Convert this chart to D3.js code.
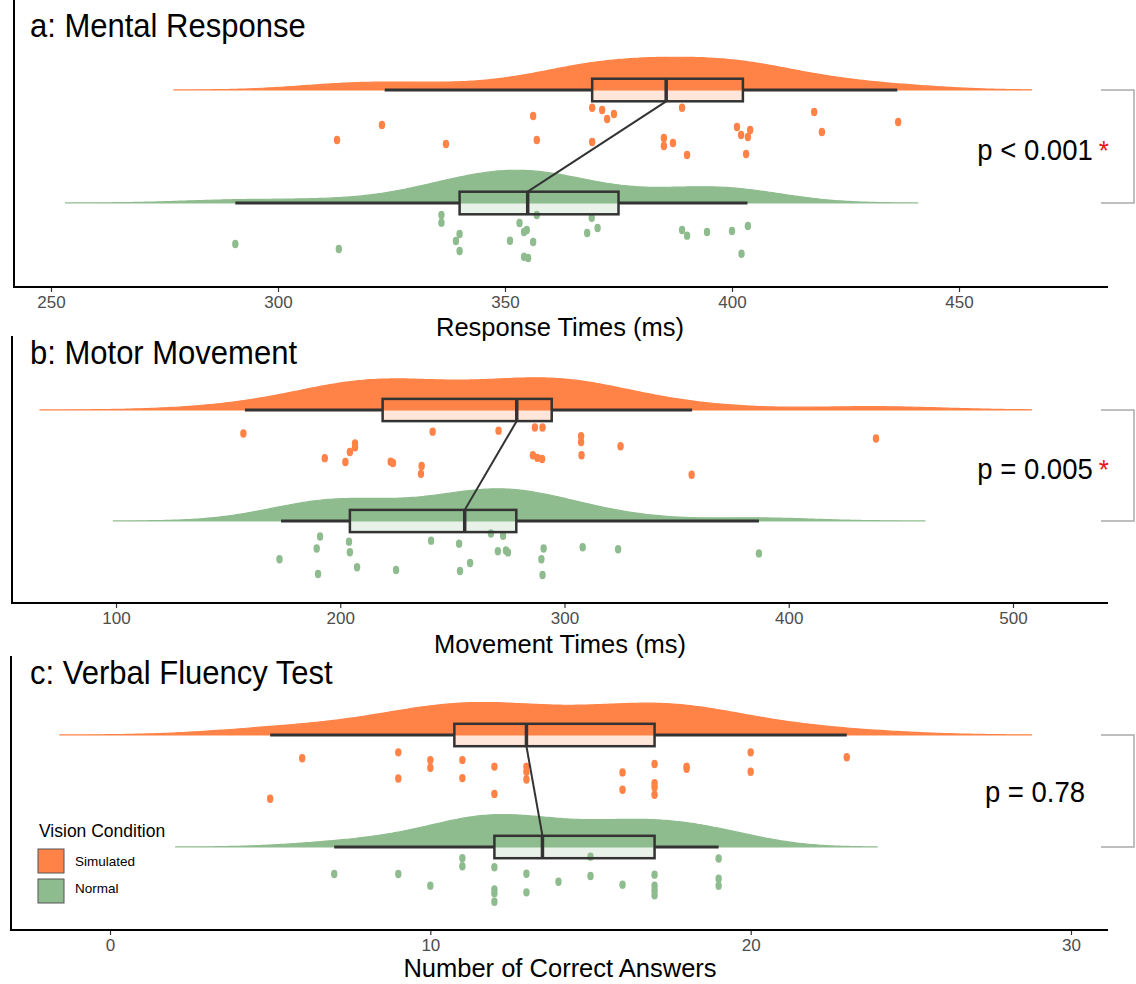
<!DOCTYPE html>
<html>
<head>
<meta charset="utf-8">
<script src="https://cdn.jsdelivr.net/npm/d3@7"></script>
<style>
  body { margin: 0; background: #fff; }
  svg { display: block; }
  text { font-family: "Liberation Sans", Arial, sans-serif; }
</style>
</head>
<body>
<svg id="chart" width="1136" height="984"></svg>
<script>
const groups = ["Simulated", "Normal"];
const groupColors = ["#FF8247", "#8FBC8F"];

// a: mental response times (ms)
const aTicks = [250, 300, 350, 400, 450];
const aSimulated = [369.2, 371.4, 374.0, 372.5, 389.0, 356.2, 322.9, 313.0, 337.0, 357.0, 369.2, 385.0,
  385.0, 387.0, 390.1, 401.1, 404.0, 402.0, 403.5, 403.1, 418.1, 419.8, 436.6];
const aSimulatedJitter = [0.157, 0.177, 0.212, 0.257, 0.157, 0.230, 0.310, 0.442, 0.478, 0.442, 0.460, 0.425,
  0.496, 0.469, 0.575, 0.327, 0.354, 0.398, 0.416, 0.566, 0.195, 0.372, 0.283];
const aNormal = [336.0, 336.0, 357.0, 369.1, 353.2, 354.8, 354.2, 370.4, 368.1, 340.0, 339.2, 340.0,
  351.1, 356.2, 354.2, 355.1, 290.6, 313.4, 389.0, 390.1, 394.5, 400.0, 403.5, 402.1];
const aNormalJitter = [0.106, 0.174, 0.106, 0.130, 0.177, 0.239, 0.257, 0.221, 0.265, 0.274, 0.336, 0.425,
  0.334, 0.345, 0.475, 0.487, 0.363, 0.407, 0.239, 0.289, 0.257, 0.248, 0.204, 0.449];
// lower whisker, q1, median, q3, upper whisker
const aSimulatedBox = [323.5, 369.2, 385.5, 402.4, 436.4];
const aNormalBox = [290.6, 340.0, 355.0, 375.0, 403.4];

// b: motor movement times (ms)
const bTicks = [100, 200, 300, 400, 500];
const bSimulated = [156.8, 241.2, 270.6, 286.8, 290.2, 206.6, 206.6, 204.3, 193.1, 202.3, 222.5, 223.5,
  236.3, 236.0, 285.9, 287.9, 290.0, 307.4, 307.4, 307.6, 325.0, 356.7, 438.9];
const bSimulatedJitter = [0.212, 0.195, 0.186, 0.157, 0.157, 0.301, 0.336, 0.378, 0.434, 0.469, 0.466, 0.478,
  0.504, 0.575, 0.407, 0.431, 0.442, 0.236, 0.289, 0.407, 0.327, 0.584, 0.257];
const bNormal = [191.0, 189.5, 172.9, 190.1, 203.9, 204.3, 207.5, 224.9, 240.5, 253.0, 257.9, 253.4,
  267.2, 272.6, 270.3, 273.9, 274.8, 290.7, 289.7, 290.2, 308.1, 323.9, 386.7];
const bNormalJitter = [0.139, 0.248, 0.345, 0.478, 0.186, 0.281, 0.416, 0.442, 0.177, 0.204, 0.378, 0.451,
  0.112, 0.133, 0.272, 0.265, 0.283, 0.248, 0.345, 0.487, 0.236, 0.254, 0.292];
const bSimulatedBox = [157.5, 218.9, 278.7, 294.3, 356.9];
const bNormalBox = [173.6, 204.3, 255.5, 278.5, 386.7];

// c: verbal fluency (correct answers)
const cTicks = [0, 10, 20, 30];
const cSimulated = [6, 9, 9, 10, 10, 11, 11, 12, 12, 13, 13, 13, 16, 16, 17, 17, 17, 17, 18, 18, 20, 20, 23, 5];
const cSimulatedJitter = [0.207, 0.155, 0.388, 0.224, 0.293, 0.224, 0.385, 0.282, 0.526, 0.282, 0.328, 0.397,
  0.334, 0.489, 0.259, 0.431, 0.466, 0.534, 0.282, 0.302, 0.155, 0.328, 0.198, 0.569];
const cNormal = [7, 9, 10, 11, 11, 12, 12, 12, 12, 13, 13, 14, 15, 15, 16, 17, 17, 17, 17, 19, 19, 19];
const cNormalJitter = [0.241, 0.241, 0.345, 0.101, 0.172, 0.181, 0.379, 0.414, 0.489, 0.239, 0.405, 0.310,
  0.086, 0.259, 0.336, 0.247, 0.345, 0.388, 0.431, 0.103, 0.284, 0.345];
const cSimulatedBox = [5, 10.75, 13, 17, 23];
const cNormalBox = [7, 12, 13.5, 17, 19];

const pLabels = ["p < 0.001", "p = 0.005", "p = 0.78"];
const pSignificant = [true, true, false];

const panels = [
  { title: "a: Mental Response", xlab: "Response Times (ms)", ticks: aTicks,
    sim: aSimulated, simJit: aSimulatedJitter, nor: aNormal, norJit: aNormalJitter,
    simBox: aSimulatedBox, norBox: aNormalBox,
    range: [51, 959], leftX: 14, top: 0, axisY: 287, simY: 90, norY: 203, titleY: 37, pY: 160, xlabY: 336 },
  { title: "b: Motor Movement", xlab: "Movement Times (ms)", ticks: bTicks,
    sim: bSimulated, simJit: bSimulatedJitter, nor: bNormal, norJit: bNormalJitter,
    simBox: bSimulatedBox, norBox: bNormalBox,
    range: [116, 1013], leftX: 12, top: 336, axisY: 603, simY: 410, norY: 521, titleY: 364, pY: 479, xlabY: 653 },
  { title: "c: Verbal Fluency Test", xlab: "Number of Correct Answers", ticks: cTicks,
    sim: cSimulated, simJit: cSimulatedJitter, nor: cNormal, norJit: cNormalJitter,
    simBox: cSimulatedBox, norBox: cNormalBox,
    range: [110, 1071], leftX: 11, top: 656, axisY: 930, simY: 735, norY: 847, titleY: 684, pY: 802, xlabY: 977 }
];

const svg = d3.select("#chart");

// the p-value column on the right hides the far tails of the densities
svg.append("defs").append("clipPath").attr("id", "plotClip")
  .append("rect").attr("x", 0).attr("y", 0).attr("width", 1032).attr("height", 984);

function label(g, x, y, str, size, anchor, fill, stretch) {
  return g.append("text")
    .attr("transform", `translate(${x},${y}) scale(1,${stretch || 1})`)
    .attr("text-anchor", anchor || "start")
    .attr("font-size", size)
    .attr("fill", fill || "#000")
    .text(str);
}

// gaussian kde, nrd0 bandwidth, extended 3 bandwidths past the data
function kde(values) {
  const n = values.length;
  const sd = d3.deviation(values);
  const iqr = d3.quantile(values, 0.75) - d3.quantile(values, 0.25);
  const bw = 0.9 * Math.min(sd, iqr / 1.34) * Math.pow(n, -0.2);
  const lo = d3.min(values) - 3 * bw, hi = d3.max(values) + 3 * bw;
  return d3.range(300).map(i => {
    const t = lo + (hi - lo) * i / 299;
    return [t, d3.mean(values, v => Math.exp(-0.5 * ((t - v) / bw) ** 2))];
  });
}

panels.forEach((p, i) => {
  const g = svg.append("g");
  const x = d3.scaleLinear().domain([p.ticks[0], p.ticks[p.ticks.length - 1]]).range(p.range);
  const y = d3.scaleLinear().domain([2, 1]).range([p.simY, p.norY]);
  const half = 0.1;
  const series = [
    { pos: 2, values: p.sim, jit: p.simJit, box: p.simBox, color: groupColors[0] },
    { pos: 1, values: p.nor, jit: p.norJit, box: p.norBox, color: groupColors[1] }
  ];

  series.forEach(s => {
    const dens = kde(s.values);
    const dmax = d3.max(dens, d => d[1]);
    const area = d3.area()
      .x(d => x(d[0]))
      .y0(y(s.pos))
      .y1(d => y(s.pos + 0.29 * d[1] / dmax));
    g.append("path").datum(dens)
      .attr("clip-path", "url(#plotClip)")
      .attr("d", area)
      .attr("fill", s.color)
      .attr("stroke", s.color)
      .attr("stroke-width", 1.2);
  });

  series.forEach(s => {
    g.selectAll(null).data(s.values).join("ellipse")
      .attr("cx", d => x(d))
      .attr("cy", (d, j) => y(s.pos - s.jit[j]))
      .attr("rx", 3.2).attr("ry", 4.2)
      .attr("fill", s.color);
  });

  series.forEach(s => {
    const [wlo, q1, med, q3, whi] = s.box;
    const cy = y(s.pos);
    [[wlo, q1], [q3, whi]].forEach(([a, b]) => {
      g.append("line")
        .attr("x1", x(a)).attr("x2", x(b)).attr("y1", cy).attr("y2", cy)
        .attr("stroke", "#333").attr("stroke-width", 3);
    });
    g.append("rect")
      .attr("x", x(q1)).attr("y", y(s.pos + half))
      .attr("width", x(q3) - x(q1))
      .attr("height", y(s.pos - half) - y(s.pos + half))
      .attr("fill", s.color).attr("fill-opacity", 0.2)
      .attr("stroke", "#333").attr("stroke-width", 2.5);
    g.append("line")
      .attr("x1", x(med)).attr("x2", x(med))
      .attr("y1", y(s.pos + half)).attr("y2", y(s.pos - half))
      .attr("stroke", "#333").attr("stroke-width", 3.5);
  });

  // line joining the two medians
  g.append("line")
    .attr("x1", x(series[0].box[2])).attr("y1", y(2 - half))
    .attr("x2", x(series[1].box[2])).attr("y2", y(1 + half))
    .attr("stroke", "#333").attr("stroke-width", 2);

  // axes
  const axis = d3.axisBottom(x).tickValues(p.ticks).tickSize(5).tickPadding(4);
  const ax = g.append("g").attr("transform", `translate(0,${p.axisY})`).call(axis);
  ax.select(".domain").remove();
  ax.selectAll(".tick line").attr("stroke", "#333").attr("stroke-width", 1.2);
  ax.selectAll(".tick text")
    .attr("font-size", 17).attr("fill", "#4d4d4d")
    .attr("font-family", "Liberation Sans, Arial, sans-serif");
  g.append("line")
    .attr("x1", p.leftX).attr("x2", 1108).attr("y1", p.axisY).attr("y2", p.axisY)
    .attr("stroke", "#000").attr("stroke-width", 2);
  g.append("line")
    .attr("x1", p.leftX).attr("x2", p.leftX).attr("y1", p.top).attr("y2", p.axisY + 1)
    .attr("stroke", "#000").attr("stroke-width", 2);

  label(g, 560, p.xlabY, p.xlab, 25.5, "middle");
  label(g, 30, p.titleY, p.title, 31, "start", "#000", 1.06);

  // significance bracket
  g.append("path")
    .attr("d", `M1101,${y(2)}H1134V${y(1)}H1101`)
    .attr("fill", "none").attr("stroke", "#aaa").attr("stroke-width", 1.5);
  const pt = label(g, 1035, p.pY, pLabels[i], 27.5, "middle", "#000", 1.08);
  if (pSignificant[i]) {
    const w = pt.node().getComputedTextLength();
    label(g, 1035 + w / 2 + 6, p.pY, "*", 26, "start", "#e8161b", 1.08);
  }

  if (i === 2) {
    const lg = g.append("g");
    label(lg, 39, 837, "Vision Condition", 17.5);
    groups.forEach((name, k) => {
      lg.append("rect")
        .attr("x", 38).attr("y", 849 + k * 30).attr("width", 26).attr("height", 24)
        .attr("fill", groupColors[k]).attr("stroke", "#555").attr("stroke-width", 1);
      label(lg, 75, 866 + k * 27, name, 13.5);
    });
  }
});
</script>
</body>
</html>
